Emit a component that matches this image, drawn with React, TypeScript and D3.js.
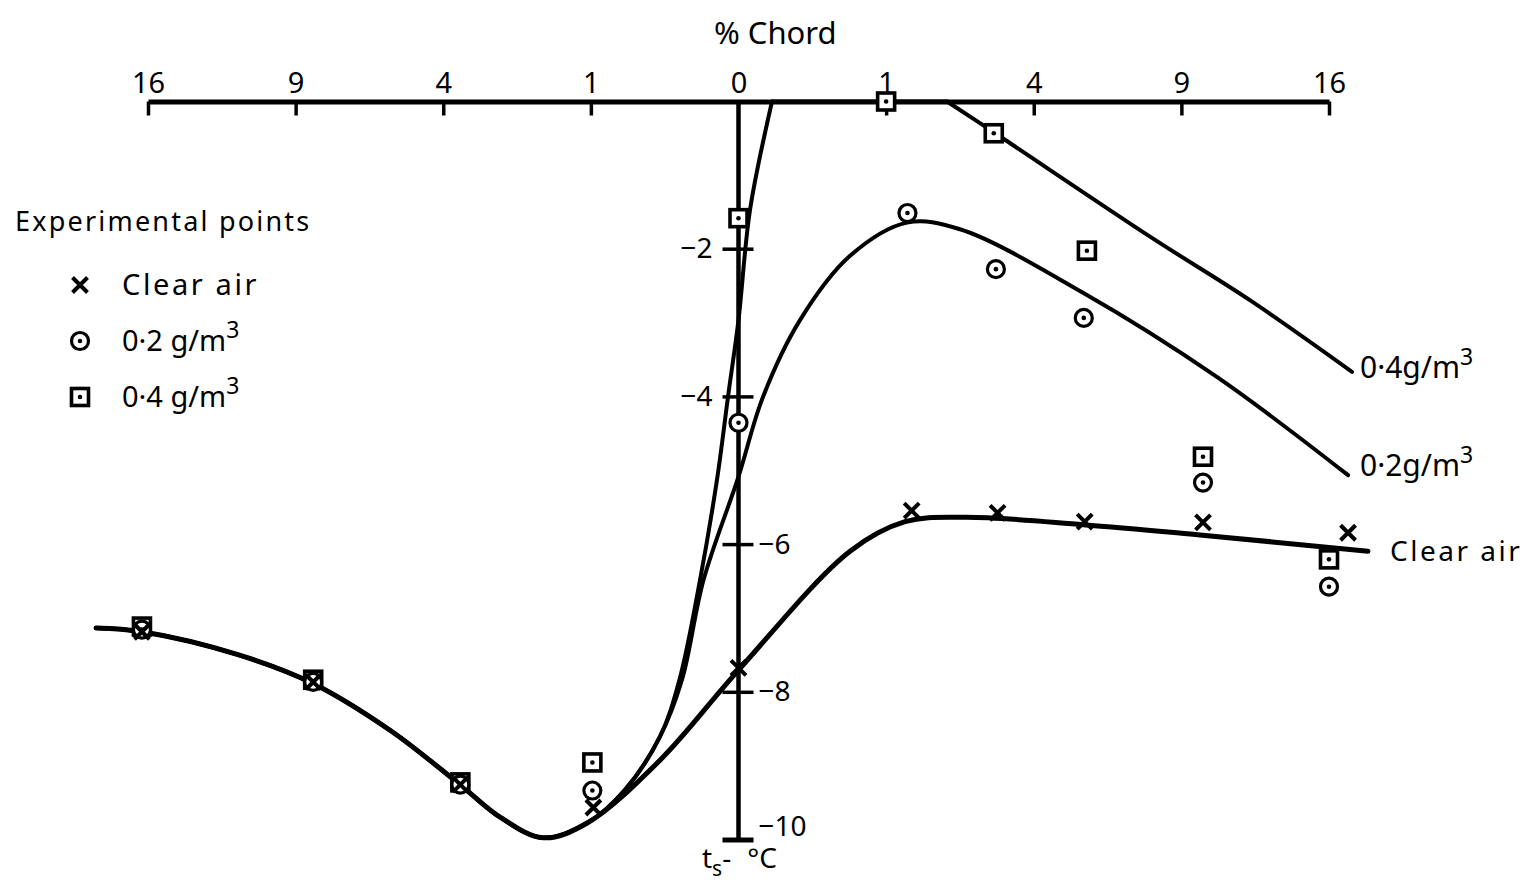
import React, { useEffect, useRef } from "react";
import * as d3 from "d3";

// % chord (negative = left of leading edge), surface temperature ts in degC
const chordTicks = [-16, -9, -4, -1, 0, 1, 4, 9, 16];
const tempTicks = [-2, -4, -6, -8, -10];

// faired curves
const clearAirCurve: [number, number][] = [
  [-18.94, -7.13], [-16.33, -7.18], [-11.5, -7.49], [-8.31, -7.88], [-5.55, -8.52],
  [-3.56, -9.25], [-2.61, -9.69], [-1.75, -9.97], [-1.05, -9.77], [-0.283, -8.92],
  [0, -7.7], [0.571, -6.09], [1.272, -5.69], [2.354, -5.63], [5.45, -5.73],
  [9.77, -5.87], [18.18, -6.09],
];
const lwc02Curve: [number, number][] = [
  [-18.94, -7.13], [-16.33, -7.18], [-11.5, -7.49], [-8.31, -7.88], [-5.55, -8.52],
  [-3.56, -9.25], [-2.61, -9.69], [-1.75, -9.97], [-1.05, -9.77], [-0.591, -9.32],
  [-0.283, -8.6], [-0.1465, -7.83], [-0.0562, -6.48], [0, -5.08],
  [0.0275, -4.0], [0.1736, -2.96], [0.571, -2.09], [1.303, -1.64], [2.251, -1.73],
  [5.446, -2.59], [10.5, -3.73], [17.05, -5.06],
];
const lwc04Curve: [number, number][] = [
  [-18.94, -7.13], [-16.33, -7.18], [-11.5, -7.49], [-8.31, -7.88], [-5.55, -8.52],
  [-3.56, -9.25], [-2.61, -9.69], [-1.75, -9.97], [-1.05, -9.77], [-0.591, -9.32],
  [-0.283, -8.6], [-0.16, -7.83], [-0.068, -6.48], [-0.0212, -5.12],
  [-0.00506, -4.0], [0, -2.96], [0.00607, -1.47], [0.0515, 0], [1.995, 0],
  [2.972, -0.41], [7.77, -1.83], [12.0, -2.69], [17.27, -3.66],
];

// experimental points
const clearAirPoints: [number, number][] = [
  [-16.33, -7.18], [-8.3, -7.86], [-3.55, -9.25], [-0.966, -9.56], [0, -7.67],
  [1.376, -5.54], [3.08, -5.57], [5.5, -5.69], [9.9, -5.7], [17.05, -5.84],
];
const lwc02Points: [number, number][] = [
  [-16.33, -7.15], [-8.3, -7.86], [-3.55, -9.25], [-0.98, -9.33], [0, -4.35],
  [1.31, -1.51], [3.04, -2.27], [5.47, -2.93], [9.9, -5.16], [16.0, -6.57],
];
const lwc04Points: [number, number][] = [
  [-16.33, -7.11], [-8.3, -7.83], [-3.55, -9.22], [-0.98, -8.95], [0, -1.58],
  [1.0, 0], [2.99, -0.43], [5.57, -2.02], [9.9, -4.81], [16.0, -6.2],
];

const W = 1539;
const H = 891;
const FONT = "'Noto Sans', sans-serif";

const x = d3.scalePow().exponent(0.5).domain([-16, 16]).range([148, 1329]);
const y = d3.scaleLinear().domain([0, -10]).range([101.5, 840]);

const line = d3
  .line<[number, number]>()
  .x((d) => x(d[0]))
  .y((d) => y(d[1]))
  .curve(d3.curveCatmullRom.alpha(0.5));

// the 0.4 curve runs along the chord line for a while: draw it in pieces so the
// spline doesn't bulge over the corners
const flatStart = lwc04Curve.findIndex((d) => d[1] === 0);
let flatEnd = flatStart;
while (lwc04Curve[flatEnd + 1] && lwc04Curve[flatEnd + 1][1] === 0) flatEnd++;
const lwc04Pieces = [
  lwc04Curve.slice(0, flatStart + 1),
  lwc04Curve.slice(flatStart, flatEnd + 1),
  lwc04Curve.slice(flatEnd),
];

function Cross({ cx, cy }: { cx: number; cy: number }) {
  const s = 7.5;
  return (
    <path
      d={`M${cx - s},${cy - s}L${cx + s},${cy + s}M${cx + s},${cy - s}L${cx - s},${cy + s}`}
      stroke="#000"
      strokeWidth={4}
    />
  );
}

function Ring({ cx, cy }: { cx: number; cy: number }) {
  return (
    <g>
      <circle cx={cx} cy={cy} r={8.5} fill="#fff" stroke="#000" strokeWidth={3.2} />
      <circle cx={cx} cy={cy} r={2.3} fill="#000" />
    </g>
  );
}

function Box({ cx, cy }: { cx: number; cy: number }) {
  return (
    <g>
      <rect x={cx - 8.5} y={cy - 8.5} width={17} height={17} fill="#fff" stroke="#000" strokeWidth={3.6} />
      <circle cx={cx} cy={cy} r={2.3} fill="#000" />
    </g>
  );
}

export default function App() {
  const axisRef = useRef<SVGGElement>(null);

  useEffect(() => {
    const g = d3.select(axisRef.current);
    g.selectAll("*").remove();
    g.call(
      d3
        .axisBottom(x)
        .tickValues(chordTicks)
        .tickFormat((d) => String(Math.abs(+d)))
        .tickSize(14)
        .tickSizeOuter(0)
    );
    g.select(".domain").attr("stroke-width", 5);
    g.selectAll(".tick line").attr("stroke-width", 3.5);
    g.selectAll(".tick text")
      .attr("y", -9)
      .attr("dy", 0)
      .attr("font-size", 29)
      .attr("font-family", FONT)
      .attr("fill", "#000");
    g.selectAll(".tick").filter((d) => d === 0).select("line").remove();
  }, []);

  return (
    <svg
      width={W}
      height={H}
      style={{ position: "absolute", left: 0, top: 0, background: "#fff" }}
      fontFamily={FONT}
    >
      <rect width={W} height={H} fill="#fff" />

      {/* top chord axis */}
      <g ref={axisRef} transform={`translate(0,${y(0)})`} />
      <text x={714} y={44} fontSize={31}>
        % Chord
      </text>

      {/* temperature axis */}
      <line x1={x(0)} x2={x(0)} y1={y(0)} y2={y(-10)} stroke="#000" strokeWidth={4.5} />
      {tempTicks.map((t) => (
        <line
          key={t}
          x1={x(0) - 16}
          x2={x(0) + 15}
          y1={y(t)}
          y2={y(t)}
          stroke="#000"
          strokeWidth={t === -10 ? 5 : 3.5}
        />
      ))}
      {tempTicks.map((t) => {
        const left = t > -5;
        return (
          <text
            key={"l" + t}
            x={left ? x(0) - 26 : x(0) + 20}
            y={t === -10 ? y(t) - 4 : y(t) + 9}
            fontSize={28}
            textAnchor={left ? "end" : "start"}
          >
            {"\u2212" + Math.abs(t)}
          </text>
        );
      })}
      <text x={702} y={868} fontSize={28}>
        t<tspan fontSize={21} dy={8}>s</tspan>
        <tspan dy={-8}>-</tspan>
        <tspan dx={16}>°C</tspan>
      </text>

      {/* curves */}
      <path d={line(clearAirCurve) ?? ""} fill="none" stroke="#000" strokeWidth={5} strokeLinecap="round" />
      <path d={line(lwc02Curve) ?? ""} fill="none" stroke="#000" strokeWidth={4} strokeLinecap="round" />
      {lwc04Pieces.map((p, i) => (
        <path key={"p" + i} d={line(p) ?? ""} fill="none" stroke="#000" strokeWidth={4} strokeLinecap="round" />
      ))}

      {/* experimental points */}
      {lwc04Points.map((d, i) => (
        <Box key={"b" + i} cx={x(d[0])} cy={y(d[1])} />
      ))}
      {lwc02Points.map((d, i) => (
        <Ring key={"r" + i} cx={x(d[0])} cy={y(d[1])} />
      ))}
      {clearAirPoints.map((d, i) => (
        <Cross key={"c" + i} cx={x(d[0])} cy={y(d[1])} />
      ))}

      {/* curve labels */}
      <text x={1360} y={378} fontSize={30}>
        0·4g/m<tspan dy={-13} fontSize={23}>3</tspan>
      </text>
      <text x={1360} y={476} fontSize={30}>
        0·2g/m<tspan dy={-13} fontSize={23}>3</tspan>
      </text>
      <text x={1390} y={561} fontSize={28} letterSpacing={2.5}>
        Clear air
      </text>

      {/* legend */}
      <text x={15} y={231} fontSize={27} letterSpacing={2.2}>
        Experimental points
      </text>
      <Cross cx={80} cy={285} />
      <text x={122} y={295} fontSize={29} letterSpacing={2.6}>
        Clear air
      </text>
      <Ring cx={80} cy={341} />
      <text x={122} y={351} fontSize={29}>
        0·2 g/m<tspan dy={-13} fontSize={23}>3</tspan>
      </text>
      <Box cx={80} cy={397} />
      <text x={122} y={407} fontSize={29}>
        0·4 g/m<tspan dy={-13} fontSize={23}>3</tspan>
      </text>
    </svg>
  );
}
